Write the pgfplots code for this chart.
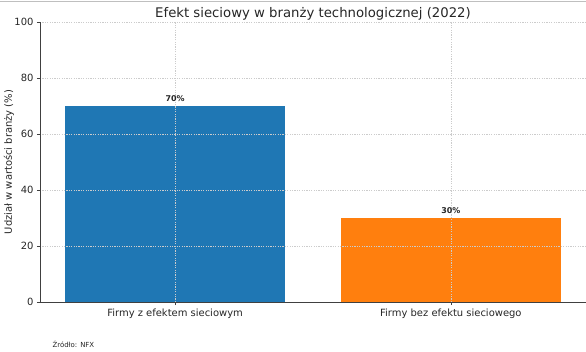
\documentclass[border=0pt]{standalone}
\usepackage{pgfplots}
\pgfplotsset{compat=1.18}
\usepackage{fontspec}
\setmainfont{DejaVu Sans}
\definecolor{mplblue}{HTML}{1F77B4}
\definecolor{mplorange}{HTML}{FF7F0E}
\begin{document}
\begin{tikzpicture}
\path[use as bounding box] (0bp,0bp) rectangle (586bp,352bp);
\draw[black!25, line width=0.8bp] (0bp,351bp) -- (586bp,351bp);
\begin{axis}[
  at={(40bp,50bp)}, anchor=south west,
  scale only axis, width=546bp, height=280bp,
  xmin=-0.49, xmax=1.49, ymin=0, ymax=100,
  ybar, bar width=0.8, bar shift=0pt,
  axis on top,
  axis x line*=bottom, axis y line*=left,
  axis line style={black!75, line width=0.8bp},
  xtick={0,1},
  xticklabels={Firmy z efektem sieciowym, Firmy bez efektu sieciowego},
  ytick={0,20,40,60,80,100},
  tick style={black!75, line width=0.6bp},
  major tick length=3bp,
  tick align=outside,
  grid=major,
  major grid style={black!20, line width=0.5bp, dash pattern=on 1.2bp off 1.2bp},
  /pgf/number format/assume math mode=true,
  tick label style={font=\fontsize{10}{12}\selectfont, text=black!85},
  ylabel={Udział w wartości branży (\%)},
  ylabel style={at={(axis description cs:-0.0568,0.5)}, anchor=center, font=\fontsize{10}{12}\selectfont, text=black!85},
  title={Efekt sieciowy w branży technologicznej (2022)},
  title style={at={(axis description cs:0.5,1)}, anchor=base, yshift=-1bp, font=\fontsize{13.3}{15}\selectfont, text=black!85},
  nodes near coords={\pgfmathprintnumber{\pgfplotspointmeta}\%},
  every node near coord/.append style={font=\bfseries\fontsize{8}{9}\selectfont, text=black!85, yshift=1bp},
]
\addplot[fill=mplblue, draw=none] coordinates {(0,70)};
\addplot[fill=mplorange, draw=none] coordinates {(1,30)};
\end{axis}
\node[anchor=base west, font=\fontsize{7}{8}\selectfont, text=black!85] at (49bp,5bp) {Źródło: NFX};
\end{tikzpicture}
\end{document}
